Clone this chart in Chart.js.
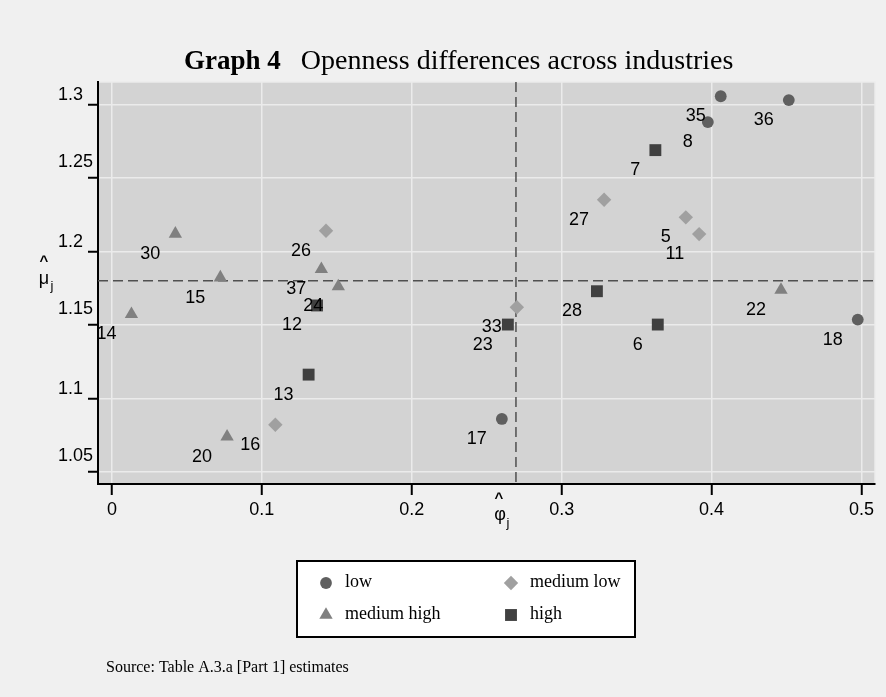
<!DOCTYPE html>
<html>
<head>
<meta charset="utf-8">
<title>Graph 4</title>
<script src="https://cdn.jsdelivr.net/npm/chart.js@4.4.1/dist/chart.umd.min.js"></script>
<style>
  html, body { margin: 0; padding: 0; background: #f0f0f0; }
  #wrap { width: 886px; height: 697px; }
</style>
</head>
<body>
<div id="wrap"><canvas id="chart" width="886" height="697"></canvas></div>
<script>
// industry ids, phi_j (x) and mu_j (y), one set per openness group
const lowIds = [35, 8, 36, 18, 17];
const lowX = [0.4061, 0.3975, 0.4515, 0.4975, 0.2601];
const lowY = [1.3057, 1.2881, 1.3031, 1.1536, 1.0859];

const medLowIds = [26, 16, 27, 5, 11, 33];
const medLowX = [0.1428, 0.1090, 0.3283, 0.3828, 0.3917, 0.2701];
const medLowY = [1.2141, 1.0820, 1.2352, 1.2232, 1.2118, 1.1620];

const medHighIds = [30, 15, 14, 37, 24, 20, 22];
const medHighX = [0.0423, 0.0723, 0.0130, 0.1397, 0.1510, 0.0768, 0.4463];
const medHighY = [1.2120, 1.1822, 1.1572, 1.1879, 1.1761, 1.0739, 1.1738];

const highIds = [7, 12, 13, 23, 28, 6];
const highX = [0.3625, 0.1368, 0.1312, 0.2641, 0.3235, 0.3641];
const highY = [1.2690, 1.1632, 1.1161, 1.1502, 1.1729, 1.1502];

const meanX = 0.2695;
const meanY = 1.18;

const xTicks = [0, 0.1, 0.2, 0.3, 0.4, 0.5];
const xTickLabels = ["0", "0.1", "0.2", "0.3", "0.4", "0.5"];
const yTicks = [1.05, 1.1, 1.15, 1.2, 1.25, 1.3];
const yTickLabels = ["1.05", "1.1", "1.15", "1.2", "1.25", "1.3"];

const SANS = "'Liberation Sans', Arial, sans-serif";
const SERIF = "'Liberation Serif', 'Times New Roman', serif";

function toPoints(ids, xs, ys) {
  return xs.map((x, i) => ({ x: x, y: ys[i], id: ids[i] }));
}

const bgPlugin = {
  id: 'bg',
  beforeDraw(chart) {
    const c = chart.ctx, a = chart.chartArea;
    c.save();
    c.fillStyle = '#f0f0f0';
    c.fillRect(0, 0, chart.width, chart.height);
    c.fillStyle = '#d3d3d3';
    c.fillRect(a.left, a.top, a.right - a.left, a.bottom - a.top);
    c.strokeStyle = '#ececec';
    c.lineWidth = 1.5;
    c.beginPath();
    c.moveTo(a.left, a.top);
    c.lineTo(a.right, a.top);
    c.lineTo(a.right, a.bottom);
    c.stroke();
    c.restore();
  }
};

const meanLines = {
  id: 'meanLines',
  beforeDatasetsDraw(chart) {
    const c = chart.ctx, a = chart.chartArea;
    const px = chart.scales.x.getPixelForValue(meanX);
    const py = chart.scales.y.getPixelForValue(meanY);
    c.save();
    c.strokeStyle = '#505050';
    c.lineWidth = 1.5;
    c.setLineDash([10, 5]);
    c.beginPath();
    c.moveTo(px, a.top);
    c.lineTo(px, a.bottom);
    c.moveTo(a.left, py);
    c.lineTo(a.right, py);
    c.stroke();
    c.restore();
  }
};

const pointLabels = {
  id: 'pointLabels',
  afterDatasetsDraw(chart) {
    const c = chart.ctx;
    c.save();
    c.fillStyle = '#000';
    c.font = '18px ' + SANS;
    c.textAlign = 'right';
    c.textBaseline = 'middle';
    chart.data.datasets.forEach((ds, di) => {
      chart.getDatasetMeta(di).data.forEach((el, i) => {
        c.fillText(String(ds.data[i].id), el.x - 15, el.y + 20);
      });
    });
    c.restore();
  }
};

const decorations = {
  id: 'decorations',
  afterDraw(chart) {
    const c = chart.ctx;
    const ys = chart.scales.y;
    c.save();
    c.fillStyle = '#000';

    // title
    c.textBaseline = 'middle';
    c.textAlign = 'left';
    c.font = 'bold 27px ' + SERIF;
    c.fillText('Graph 4', 184, 62);
    const w = c.measureText('Graph 4').width;
    c.font = '28px ' + SERIF;
    c.fillText('Openness differences across industries', 184 + w + 20, 62);

    // y tick labels (left aligned, as in the original)
    c.font = '18px ' + SANS;
    yTicks.forEach((v, i) => {
      const lab = yTickLabels[i];
      const off = lab.length > 3 ? 15.5 : 9.5;
      c.fillText(lab, 58, ys.getPixelForValue(v) - off);
    });

    // axis symbols
    c.textAlign = 'center';
    c.font = '18px ' + SANS;
    c.fillText('\u03bc', 44, 279);
    c.fillText('\u03c6', 500, 515);
    c.font = 'bold 15px ' + SANS;
    c.fillText('^', 44, 262);
    c.fillText('^', 499, 499);
    c.font = '13px ' + SANS;
    c.fillText('j', 52, 286);
    c.fillText('j', 508, 523);

    // legend
    c.fillStyle = '#fff';
    c.fillRect(297, 561, 338, 76);
    c.strokeStyle = '#000';
    c.lineWidth = 2;
    c.strokeRect(297, 561, 338, 76);
    const slots = [[326, 583], [511, 583], [326, 615], [511, 615]];
    c.font = '18px ' + SERIF;
    c.textAlign = 'left';
    chart.data.datasets.forEach((ds, k) => {
      const [lx, ly] = slots[k];
      c.fillStyle = ds.backgroundColor;
      if (Chart.helpers && Chart.helpers.drawPoint) {
        Chart.helpers.drawPoint(c, { pointStyle: ds.pointStyle, radius: ds.pointRadius, borderWidth: 0, rotation: 0 }, lx, ly);
      }
      c.fillStyle = '#000';
      c.fillText(ds.label, lx + 19, ly - 1);
    });

    // source note
    c.font = '16px ' + SERIF;
    c.fillText('Source: Table A.3.a [Part 1] estimates', 106, 668);
    c.restore();
  }
};

const ctx = document.getElementById('chart').getContext('2d');
new Chart(ctx, {
  type: 'scatter',
  data: {
    datasets: [
      { label: 'low', data: toPoints(lowIds, lowX, lowY), pointStyle: 'circle', pointRadius: 5.9, backgroundColor: '#5f5f5f', borderWidth: 0 },
      { label: 'medium low', data: toPoints(medLowIds, medLowX, medLowY), pointStyle: 'rectRot', pointRadius: 7.2, backgroundColor: '#a0a0a0', borderWidth: 0 },
      { label: 'medium high', data: toPoints(medHighIds, medHighX, medHighY), pointStyle: 'triangle', pointRadius: 7.7, backgroundColor: '#808080', borderWidth: 0 },
      { label: 'high', data: toPoints(highIds, highX, highY), pointStyle: 'rect', pointRadius: 8.4, backgroundColor: '#404040', borderWidth: 0 }
    ]
  },
  options: {
    responsive: false,
    animation: false,
    events: [],
    layout: { padding: { top: 82, right: 11, left: 0, bottom: 0 } },
    plugins: { legend: { display: false }, tooltip: { enabled: false }, title: { display: false } },
    elements: { point: { hoverRadius: 0 } },
    scales: {
      x: {
        type: 'linear',
        min: -0.0093,
        max: 0.509,
        afterBuildTicks: s => { s.ticks = xTicks.map(v => ({ value: v })); },
        afterFit: s => { s.height = 213; },
        grid: { color: '#ebebeb', lineWidth: 1.5, tickColor: '#000', tickWidth: 2, tickLength: 11 },
        border: { color: '#000', width: 2 },
        ticks: {
          color: '#000',
          font: { family: SANS, size: 18 },
          padding: 4,
          maxRotation: 0,
          autoSkip: false,
          callback: v => xTickLabels[xTicks.indexOf(v)]
        }
      },
      y: {
        type: 'linear',
        min: 1.0416,
        max: 1.3154,
        afterBuildTicks: s => { s.ticks = yTicks.map(v => ({ value: v })); },
        afterFit: s => { s.width = 98; },
        grid: { color: '#ebebeb', lineWidth: 1.5, tickColor: '#000', tickWidth: 2, tickLength: 10 },
        border: { color: '#000', width: 2 },
        ticks: { display: false }
      }
    }
  },
  plugins: [bgPlugin, meanLines, pointLabels, decorations]
});
</script>
</body>
</html>
